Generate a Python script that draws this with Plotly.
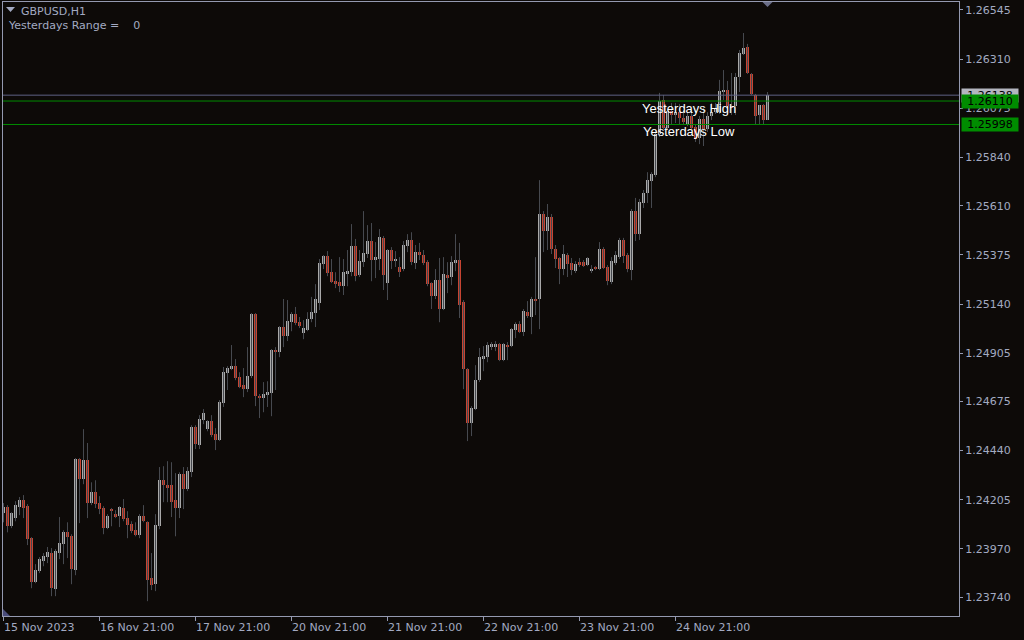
import plotly.graph_objects as go

# ---------------- data (GBPUSD, H1) ----------------
open_ = [1.24141, 1.24170, 1.24078, 1.24117, 1.24170, 1.24203, 1.24174, 1.24021, 1.23810, 1.23863,
         1.23911, 1.23931, 1.23950, 1.23777, 1.23950, 1.23993, 1.24049, 1.24030, 1.23868, 1.24399,
         1.24303, 1.24394, 1.24189, 1.24241, 1.24189, 1.24165, 1.24069, 1.24160, 1.24136, 1.24126,
         1.24165, 1.24117, 1.24088, 1.24059, 1.24035, 1.24126, 1.24097, 1.23830, 1.23801, 1.24078,
         1.24298, 1.24274, 1.24274, 1.24203, 1.24165, 1.24327, 1.24255, 1.24336, 1.24552, 1.24466,
         1.24585, 1.24542, 1.24580, 1.24518, 1.24490, 1.24667, 1.24810, 1.24829, 1.24843, 1.24791,
         1.24752, 1.24733, 1.24795, 1.25092, 1.24700, 1.24690, 1.24705, 1.24714, 1.24920, 1.24910,
         1.25030, 1.24987, 1.25053, 1.25092, 1.25053, 1.25001, 1.25015, 1.25068, 1.25097, 1.25145,
         1.25331, 1.25369, 1.25292, 1.25249, 1.25244, 1.25225, 1.25288, 1.25292, 1.25417, 1.25278,
         1.25340, 1.25379, 1.25441, 1.25350, 1.25355, 1.25456, 1.25240, 1.25398, 1.25345, 1.25317,
         1.25307, 1.25417, 1.25446, 1.25336, 1.25388, 1.25374, 1.25340, 1.25240, 1.25178, 1.25254,
         1.25116, 1.25278, 1.25269, 1.25336, 1.25350, 1.25149, 1.24829, 1.24571, 1.24638, 1.24776,
         1.24882, 1.24886, 1.24934, 1.24934, 1.24949, 1.24872, 1.24944, 1.24939, 1.25015, 1.25044,
         1.25006, 1.25101, 1.25078, 1.25164, 1.25164, 1.25570, 1.25489, 1.25556, 1.25403, 1.25360,
         1.25307, 1.25374, 1.25336, 1.25297, 1.25340, 1.25340, 1.25326, 1.25302, 1.25317, 1.25307,
         1.25403, 1.25317, 1.25244, 1.25336, 1.25364, 1.25446, 1.25374, 1.25302, 1.25584, 1.25474,
         1.25623, 1.25671, 1.25728, 1.25756, 1.25952, 1.26115, 1.25981, 1.26062, 1.26043, 1.26057,
         1.26029, 1.26000, 1.26038, 1.25985, 1.25933, 1.26024, 1.25976, 1.26038, 1.26057, 1.26057,
         1.26153, 1.26163, 1.26086, 1.26086, 1.26225, 1.26335, 1.26369, 1.26239, 1.26139, 1.26043,
         1.26091, 1.26019]
high = [1.24189, 1.24179, 1.24145, 1.24198, 1.24218, 1.24227, 1.24184, 1.24026, 1.23897, 1.23931,
        1.23950, 1.23979, 1.23974, 1.23969, 1.24122, 1.24059, 1.24097, 1.24040, 1.24404, 1.24404,
        1.24542, 1.24476, 1.24288, 1.24298, 1.24222, 1.24174, 1.24136, 1.24165, 1.24155, 1.24174,
        1.24208, 1.24150, 1.24102, 1.24097, 1.24136, 1.24179, 1.24102, 1.23950, 1.24136, 1.24361,
        1.24365, 1.24389, 1.24384, 1.24332, 1.24336, 1.24361, 1.24361, 1.24561, 1.24561, 1.24609,
        1.24638, 1.24585, 1.24609, 1.24547, 1.24681, 1.24839, 1.24843, 1.24944, 1.24877, 1.24814,
        1.24834, 1.24934, 1.25097, 1.25097, 1.24710, 1.24767, 1.24771, 1.24925, 1.24934, 1.25035,
        1.25164, 1.25159, 1.25101, 1.25126, 1.25078, 1.25063, 1.25101, 1.25174, 1.25235, 1.25355,
        1.25374, 1.25393, 1.25355, 1.25292, 1.25364, 1.25355, 1.25398, 1.25522, 1.25451, 1.25398,
        1.25584, 1.25517, 1.25527, 1.25436, 1.25498, 1.25465, 1.25403, 1.25412, 1.25393, 1.25364,
        1.25441, 1.25474, 1.25483, 1.25422, 1.25432, 1.25398, 1.25350, 1.25244, 1.25307, 1.25360,
        1.25364, 1.25340, 1.25369, 1.25474, 1.25432, 1.25159, 1.24834, 1.24652, 1.24848, 1.24930,
        1.24939, 1.24958, 1.24958, 1.24963, 1.24954, 1.24954, 1.24958, 1.25025, 1.25053, 1.25058,
        1.25116, 1.25154, 1.25174, 1.25364, 1.25732, 1.25584, 1.25618, 1.25570, 1.25422, 1.25364,
        1.25422, 1.25384, 1.25360, 1.25345, 1.25360, 1.25350, 1.25364, 1.25326, 1.25321, 1.25436,
        1.25412, 1.25326, 1.25364, 1.25393, 1.25456, 1.25456, 1.25384, 1.25594, 1.25647, 1.25642,
        1.25685, 1.25770, 1.25770, 1.25971, 1.26149, 1.26139, 1.26072, 1.26101, 1.26101, 1.26096,
        1.26067, 1.26057, 1.26067, 1.26000, 1.26038, 1.26086, 1.26057, 1.26101, 1.26101, 1.26211,
        1.26258, 1.26206, 1.26244, 1.26244, 1.26354, 1.26435, 1.26383, 1.26244, 1.26144, 1.26091,
        1.26096, 1.26153]
low = [1.24097, 1.24049, 1.24069, 1.24102, 1.24131, 1.24117, 1.23988, 1.23782, 1.23806, 1.23854,
       1.23887, 1.23902, 1.23744, 1.23744, 1.23921, 1.23897, 1.23926, 1.23801, 1.23844, 1.24093,
       1.24279, 1.24117, 1.24179, 1.24165, 1.24136, 1.24040, 1.24064, 1.24078, 1.24117, 1.24074,
       1.24102, 1.24021, 1.24045, 1.24030, 1.24021, 1.24097, 1.23720, 1.23773, 1.23768, 1.24064,
       1.24193, 1.24193, 1.24122, 1.24030, 1.24117, 1.24160, 1.24246, 1.24313, 1.24447, 1.24447,
       1.24566, 1.24532, 1.24504, 1.24442, 1.24485, 1.24648, 1.24729, 1.24824, 1.24776, 1.24738,
       1.24695, 1.24719, 1.24786, 1.24652, 1.24595, 1.24623, 1.24648, 1.24604, 1.24729, 1.24886,
       1.24934, 1.24963, 1.25010, 1.25039, 1.25025, 1.24972, 1.25010, 1.25053, 1.25030, 1.25111,
       1.25307, 1.25273, 1.25240, 1.25216, 1.25197, 1.25183, 1.25225, 1.25273, 1.25249, 1.25269,
       1.25317, 1.25360, 1.25249, 1.25264, 1.25302, 1.25207, 1.25159, 1.25307, 1.25317, 1.25269,
       1.25297, 1.25388, 1.25326, 1.25307, 1.25350, 1.25326, 1.25225, 1.25116, 1.25164, 1.25053,
       1.25111, 1.25192, 1.25230, 1.25297, 1.25073, 1.24733, 1.24485, 1.24509, 1.24633, 1.24767,
       1.24819, 1.24862, 1.24920, 1.24915, 1.24867, 1.24867, 1.24872, 1.24934, 1.24977, 1.25001,
       1.24987, 1.25073, 1.24996, 1.25087, 1.25020, 1.25388, 1.25398, 1.25379, 1.25312, 1.25235,
       1.25278, 1.25269, 1.25278, 1.25288, 1.25317, 1.25317, 1.25321, 1.25288, 1.25302, 1.25302,
       1.25307, 1.25230, 1.25235, 1.25326, 1.25355, 1.25336, 1.25292, 1.25254, 1.25441, 1.25446,
       1.25599, 1.25623, 1.25599, 1.25746, 1.25938, 1.25976, 1.25971, 1.26000, 1.26005, 1.26000,
       1.25995, 1.25990, 1.25976, 1.25914, 1.25904, 1.25895, 1.25962, 1.26019, 1.26048, 1.26048,
       1.26115, 1.26043, 1.26043, 1.26043, 1.26153, 1.26330, 1.26239, 1.26139, 1.26000, 1.26000,
       1.26000, 1.26019]
close = [1.24170, 1.24078, 1.24141, 1.24179, 1.24203, 1.24165, 1.24016, 1.23810, 1.23868, 1.23921,
         1.23935, 1.23954, 1.23782, 1.23959, 1.23998, 1.24049, 1.24026, 1.23873, 1.24399, 1.24303,
         1.24394, 1.24189, 1.24241, 1.24184, 1.24160, 1.24069, 1.24126, 1.24150, 1.24122, 1.24170,
         1.24112, 1.24083, 1.24054, 1.24035, 1.24126, 1.24102, 1.23820, 1.23796, 1.24083, 1.24298,
         1.24274, 1.24265, 1.24193, 1.24165, 1.24327, 1.24255, 1.24341, 1.24552, 1.24471, 1.24590,
         1.24619, 1.24580, 1.24513, 1.24490, 1.24671, 1.24814, 1.24834, 1.24843, 1.24786, 1.24743,
         1.24733, 1.24795, 1.25092, 1.24700, 1.24695, 1.24710, 1.24719, 1.24920, 1.24910, 1.25030,
         1.24987, 1.25058, 1.25092, 1.25049, 1.25034, 1.25025, 1.25068, 1.25101, 1.25164, 1.25336,
         1.25369, 1.25288, 1.25244, 1.25240, 1.25225, 1.25292, 1.25297, 1.25417, 1.25273, 1.25345,
         1.25384, 1.25441, 1.25350, 1.25364, 1.25460, 1.25278, 1.25398, 1.25345, 1.25355, 1.25292,
         1.25422, 1.25446, 1.25340, 1.25388, 1.25374, 1.25336, 1.25235, 1.25178, 1.25254, 1.25116,
         1.25283, 1.25269, 1.25340, 1.25350, 1.25135, 1.24829, 1.24571, 1.24643, 1.24776, 1.24886,
         1.24891, 1.24944, 1.24949, 1.24949, 1.24872, 1.24949, 1.24939, 1.25020, 1.25044, 1.25006,
         1.25106, 1.25082, 1.25164, 1.25159, 1.25570, 1.25489, 1.25556, 1.25403, 1.25355, 1.25307,
         1.25379, 1.25331, 1.25302, 1.25331, 1.25326, 1.25321, 1.25360, 1.25307, 1.25307, 1.25403,
         1.25312, 1.25249, 1.25345, 1.25374, 1.25446, 1.25369, 1.25307, 1.25584, 1.25474, 1.25627,
         1.25671, 1.25732, 1.25761, 1.25952, 1.26110, 1.25981, 1.26062, 1.26043, 1.26057, 1.26029,
         1.26010, 1.26038, 1.25981, 1.25928, 1.26024, 1.25976, 1.26038, 1.26057, 1.26077, 1.26158,
         1.26163, 1.26086, 1.26081, 1.26225, 1.26340, 1.26364, 1.26244, 1.26144, 1.26038, 1.26091,
         1.26019, 1.26138]

x_tick_bars = [0, 24, 48, 72, 96, 120, 144, 168]
x_tick_labels = ["15 Nov 2023", "16 Nov 21:00", "17 Nov 21:00", "20 Nov 21:00",
                 "21 Nov 21:00", "22 Nov 21:00", "23 Nov 21:00", "24 Nov 21:00"]
y_tick_vals = [1.23740, 1.23970, 1.24205, 1.24440, 1.24675, 1.24905, 1.25140,
               1.25375, 1.25610, 1.25840, 1.26075, 1.26310, 1.26545]
bid_price = 1.26138
yesterday_high = 1.26110
yesterday_low = 1.25998
symbol_text = "GBPUSD,H1"
range_label = "Yesterdays Range ="
range_value = 0
text_anchor_bar = 171.4

# ---------------- style ----------------
BG = "#0d0a08"
AX = "#9499b0"
AXT = "#a3aac2"
BULL = "#a9a9a9"
BEAR = "#c84432"
WICK = "#46494f"
GREEN = "#008c00"
BIDC = "#5f6285"
FONT = "DejaVu Sans"

idx = list(range(len(close)))

wx, wy = [], []
for i in idx:
    wx += [i, i, None]
    wy += [low[i], high[i], None]

bases = [min(o, c) for o, c in zip(open_, close)]
heights = [max(abs(c - o), 0.00004) for o, c in zip(open_, close)]
colors = [BULL if c >= o else BEAR for o, c in zip(open_, close)]

fig = go.Figure()
fig.add_trace(go.Scatter(x=wx, y=wy, mode="lines", line=dict(color=WICK, width=1),
                         hoverinfo="skip", showlegend=False))
fig.add_trace(go.Bar(x=idx, y=heights, base=bases, width=0.75,
                     marker=dict(color=colors, line=dict(width=0)),
                     hoverinfo="skip", showlegend=False))

shapes = []
for p, col in [(bid_price, BIDC), (yesterday_high, GREEN), (yesterday_low, GREEN)]:
    shapes.append(dict(type="line", xref="paper", x0=0, x1=1, yref="y", y0=p, y1=p,
                       line=dict(color=col, width=1), layer="above"))
# small triangles (MT4 chart markers)
shapes.append(dict(type="path", xref="paper", yref="paper", xsizemode="pixel", ysizemode="pixel",
                   xanchor=0, yanchor=1, path="M 3,-5 L 12,-5 L 7.5,-10 Z",
                   fillcolor=AXT, line=dict(width=0)))
shapes.append(dict(type="path", xref="x", yref="paper", xsizemode="pixel", ysizemode="pixel",
                   xanchor=idx[-1], yanchor=1, path="M -5,0 L 5,0 L 0,-5 Z",
                   fillcolor="#6a6e88", line=dict(width=0)))
shapes.append(dict(type="path", xref="paper", yref="paper", xsizemode="pixel", ysizemode="pixel",
                   xanchor=0, yanchor=0, path="M 0,0 L 7,0 L 0,7 Z",
                   fillcolor="#4a4c7a", line=dict(width=0)))

annotations = []
# top-left info
annotations.append(dict(xref="paper", yref="paper", x=0, y=1, xanchor="left", yanchor="middle",
                        xshift=17, yshift=-9, text=symbol_text, showarrow=False, borderpad=0,
                        font=dict(family=FONT, size=11, color=AXT)))
annotations.append(dict(xref="paper", yref="paper", x=0, y=1, xanchor="left", yanchor="middle",
                        xshift=4, yshift=-23,
                        text=range_label + "\u00a0\u00a0\u00a0 " + str(range_value),
                        showarrow=False, borderpad=0,
                        font=dict(family=FONT, size=11, color=AXT)))
# x axis labels (left aligned at the tick, MT4 style)
for b, lab in zip(x_tick_bars, x_tick_labels):
    annotations.append(dict(xref="x", yref="paper", x=b, y=0, xanchor="left", yanchor="middle",
                            xshift=-1, yshift=-11, text=lab, showarrow=False, borderpad=0,
                            font=dict(family=FONT, size=11, color=AXT)))
# texts on chart
annotations.append(dict(xref="x", yref="y", x=text_anchor_bar, y=yesterday_high, xanchor="center",
                        yanchor="middle", yshift=-7, text="Yesterdays High", showarrow=False,
                        borderpad=0, font=dict(family="Liberation Sans", size=13, color="#ffffff")))
annotations.append(dict(xref="x", yref="y", x=text_anchor_bar, y=yesterday_low, xanchor="center",
                        yanchor="middle", yshift=-7, text="Yesterdays Low", showarrow=False,
                        borderpad=0, font=dict(family="Liberation Sans", size=13, color="#ffffff")))
# price labels on the right scale
for p, bg in [(bid_price, "#b4b6c0"), (yesterday_high, GREEN), (yesterday_low, GREEN)]:
    annotations.append(dict(xref="paper", yref="y", x=1, y=p, xanchor="left", yanchor="middle",
                            xshift=2, text=f"{p:.5f}", showarrow=False, bgcolor=bg,
                            width=56, height=13, borderpad=0, align="center",
                            font=dict(family=FONT, size=11, color="#000000")))

fig.update_layout(
    width=1024, height=640,
    margin=dict(l=3, r=65, t=2, b=24, pad=0),
    paper_bgcolor=BG, plot_bgcolor=BG,
    showlegend=False, barmode="overlay", bargap=0,
    shapes=shapes, annotations=annotations,
    xaxis=dict(range=[-0.125, 238.875], showgrid=False, zeroline=False,
               showline=True, linecolor=AX, linewidth=1, mirror=True,
               ticks="outside", ticklen=4, tickcolor=AX, tickvals=x_tick_bars,
               showticklabels=False, fixedrange=True),
    yaxis=dict(side="right", range=[1.236492, 1.265832], showgrid=False, zeroline=False,
               showline=True, linecolor=AX, linewidth=1, mirror=True,
               ticks="outside", ticklen=3, tickcolor=AX, tickvals=y_tick_vals,
               tickformat=".5f", tickfont=dict(family=FONT, size=11, color=AXT),
               fixedrange=True),
)

fig.write_html("out.html", config={"displayModeBar": False},
               post_script="document.body.style.margin='0';document.body.style.padding='0';"
                           "document.body.style.background='" + BG + "';")
